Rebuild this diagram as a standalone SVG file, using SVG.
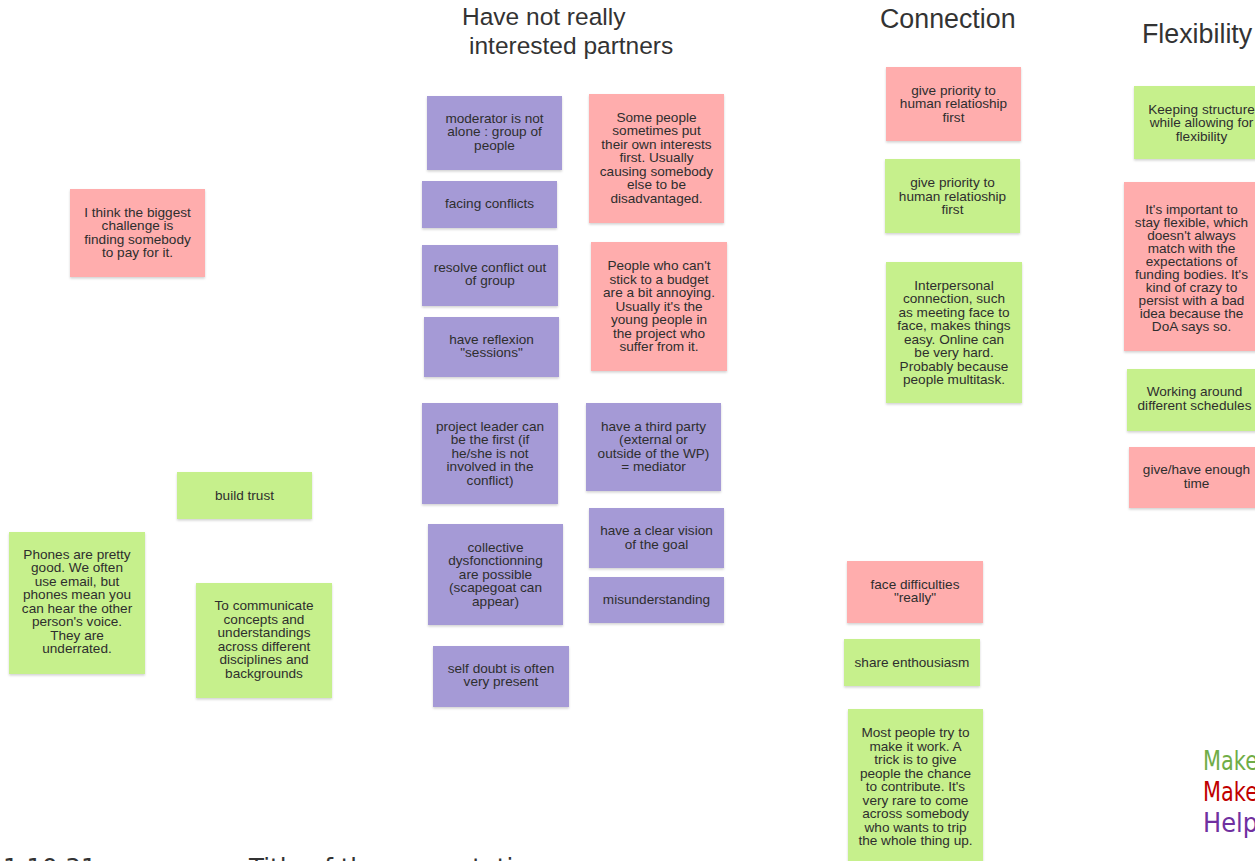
<svg xmlns="http://www.w3.org/2000/svg" width="1255" height="861" viewBox="0 0 1255 861">
<defs>
<filter id="sh" x="-10%" y="-10%" width="120%" height="130%">
<feDropShadow dx="0" dy="1.5" stdDeviation="1.3" flood-color="#000" flood-opacity="0.18"/>
</filter>
<style>
.n rect{filter:url(#sh);}
.pink rect{fill:#ffadad;}
.green rect{fill:#c6f08c;}
.purple rect{fill:#a59ad6;}
.n text{font-family:"Liberation Sans",Arial,sans-serif;font-size:13.6px;fill:#2e2e2e;text-anchor:middle;}
.h{font-family:"Liberation Sans",Arial,sans-serif;fill:#333333;}
.leg{font-family:"DejaVu Sans",Tahoma,sans-serif;font-size:26px;}
.foot{font-family:"DejaVu Sans",Tahoma,sans-serif;font-size:24.5px;fill:#333333;}
</style>
</defs>
<rect width="1255" height="861" fill="#ffffff"/>

<g id="headings">
<text class="h" x="462" y="25" font-size="24.5">Have not really</text>
<text class="h" x="469" y="54" font-size="24.5">interested partners</text>
<text class="h" x="880" y="28" font-size="26.8">Connection</text>
<text class="h" x="1142" y="43" font-size="26.8">Flexibility</text>
</g>

<g id="connectors"></g>

<g id="note1" class="n pink"><rect x="70" y="189" width="135" height="88"/>
<text x="137.5" y="216.5"><tspan x="137.5">I think the biggest</tspan><tspan x="137.5" dy="13.5">challenge is</tspan><tspan x="137.5" dy="13.5">finding somebody</tspan><tspan x="137.5" dy="13.5">to pay for it.</tspan></text></g>

<g id="note2" class="n green"><rect x="177" y="472" width="135" height="47"/>
<text x="244.5" y="499.5">build trust</text></g>

<g id="note3" class="n green"><rect x="9" y="532" width="136" height="142"/>
<text x="77" y="558.75"><tspan x="77">Phones are pretty</tspan><tspan x="77" dy="13.5">good. We often</tspan><tspan x="77" dy="13.5">use email, but</tspan><tspan x="77" dy="13.5">phones mean you</tspan><tspan x="77" dy="13.5">can hear the other</tspan><tspan x="77" dy="13.5">person's voice.</tspan><tspan x="77" dy="13.5">They are</tspan><tspan x="77" dy="13.5">underrated.</tspan></text></g>

<g id="note4" class="n green"><rect x="196" y="583" width="136" height="115"/>
<text x="264" y="610.25"><tspan x="264">To communicate</tspan><tspan x="264" dy="13.5">concepts and</tspan><tspan x="264" dy="13.5">understandings</tspan><tspan x="264" dy="13.5">across different</tspan><tspan x="264" dy="13.5">disciplines and</tspan><tspan x="264" dy="13.5">backgrounds</tspan></text></g>

<g id="note5" class="n purple"><rect x="427" y="96" width="135" height="74"/>
<text x="494.5" y="122.5"><tspan x="494.5">moderator is not</tspan><tspan x="494.5" dy="13.5">alone : group of</tspan><tspan x="494.5" dy="13.5">people</tspan></text></g>

<g id="note6" class="n purple"><rect x="422" y="181" width="135" height="47"/>
<text x="489.5" y="207.5">facing conflicts</text></g>

<g id="note7" class="n purple"><rect x="422" y="245" width="136" height="61"/>
<text x="490" y="271.75"><tspan x="490">resolve conflict out</tspan><tspan x="490" dy="13.5">of group</tspan></text></g>

<g id="note8" class="n purple"><rect x="424" y="317" width="135" height="60"/>
<text x="491.5" y="343.75"><tspan x="491.5">have reflexion</tspan><tspan x="491.5" dy="13.5">"sessions"</tspan></text></g>

<g id="note9" class="n pink"><rect x="589" y="94" width="135" height="129"/>
<text x="656.5" y="121.5"><tspan x="656.5">Some people</tspan><tspan x="656.5" dy="13.5">sometimes put</tspan><tspan x="656.5" dy="13.5">their own interests</tspan><tspan x="656.5" dy="13.5">first. Usually</tspan><tspan x="656.5" dy="13.5">causing somebody</tspan><tspan x="656.5" dy="13.5">else to be</tspan><tspan x="656.5" dy="13.5">disadvantaged.</tspan></text></g>

<g id="note10" class="n pink"><rect x="591" y="242" width="136" height="129"/>
<text x="659" y="270"><tspan x="659">People who can't</tspan><tspan x="659" dy="13.5">stick to a budget</tspan><tspan x="659" dy="13.5">are a bit annoying.</tspan><tspan x="659" dy="13.5">Usually it's the</tspan><tspan x="659" dy="13.5">young people in</tspan><tspan x="659" dy="13.5">the project who</tspan><tspan x="659" dy="13.5">suffer from it.</tspan></text></g>

<g id="note11" class="n purple"><rect x="422" y="403" width="136" height="101"/>
<text x="490" y="430.5"><tspan x="490">project leader can</tspan><tspan x="490" dy="13.5">be the first (if</tspan><tspan x="490" dy="13.5">he/she is not</tspan><tspan x="490" dy="13.5">involved in the</tspan><tspan x="490" dy="13.5">conflict)</tspan></text></g>

<g id="note12" class="n purple"><rect x="586" y="403" width="135" height="88"/>
<text x="653.5" y="430.75"><tspan x="653.5">have a third party</tspan><tspan x="653.5" dy="13.5">(external or</tspan><tspan x="653.5" dy="13.5">outside of the WP)</tspan><tspan x="653.5" dy="13.5">= mediator</tspan></text></g>

<g id="note13" class="n purple"><rect x="428" y="524" width="135" height="101"/>
<text x="495.5" y="551.5"><tspan x="495.5">collective</tspan><tspan x="495.5" dy="13.5">dysfonctionning</tspan><tspan x="495.5" dy="13.5">are possible</tspan><tspan x="495.5" dy="13.5">(scapegoat can</tspan><tspan x="495.5" dy="13.5">appear)</tspan></text></g>

<g id="note14" class="n purple"><rect x="589" y="508" width="135" height="60"/>
<text x="656.5" y="535.25"><tspan x="656.5">have a clear vision</tspan><tspan x="656.5" dy="13.5">of the goal</tspan></text></g>

<g id="note15" class="n purple"><rect x="589" y="577" width="135" height="46"/>
<text x="656.5" y="603.5">misunderstanding</text></g>

<g id="note16" class="n purple"><rect x="433" y="646" width="136" height="61"/>
<text x="501" y="672.75"><tspan x="501">self doubt is often</tspan><tspan x="501" dy="13.5">very present</tspan></text></g>

<g id="note17" class="n pink"><rect x="886" y="67" width="135" height="74"/>
<text x="953.5" y="94.5"><tspan x="953.5">give priority to</tspan><tspan x="953.5" dy="13.5">human relatioship</tspan><tspan x="953.5" dy="13.5">first</tspan></text></g>

<g id="note18" class="n green"><rect x="885" y="159" width="135" height="74"/>
<text x="952.5" y="187"><tspan x="952.5">give priority to</tspan><tspan x="952.5" dy="13.5">human relatioship</tspan><tspan x="952.5" dy="13.5">first</tspan></text></g>

<g id="note19" class="n green"><rect x="886" y="262" width="136" height="141"/>
<text x="954" y="289.75"><tspan x="954">Interpersonal</tspan><tspan x="954" dy="13.5">connection, such</tspan><tspan x="954" dy="13.5">as meeting face to</tspan><tspan x="954" dy="13.5">face, makes things</tspan><tspan x="954" dy="13.5">easy. Online can</tspan><tspan x="954" dy="13.5">be very hard.</tspan><tspan x="954" dy="13.5">Probably because</tspan><tspan x="954" dy="13.5">people multitask.</tspan></text></g>

<g id="note20" class="n pink"><rect x="847" y="561" width="136" height="62"/>
<text x="915" y="588.75"><tspan x="915">face difficulties</tspan><tspan x="915" dy="13.5">"really"</tspan></text></g>

<g id="note21" class="n green"><rect x="844" y="639" width="136" height="47"/>
<text x="912" y="666.5">share enthousiasm</text></g>

<g id="note22" class="n green"><rect x="848" y="709" width="135" height="156"/>
<text x="915.5" y="737"><tspan x="915.5">Most people try to</tspan><tspan x="915.5" dy="13.5">make it work. A</tspan><tspan x="915.5" dy="13.5">trick is to give</tspan><tspan x="915.5" dy="13.5">people the chance</tspan><tspan x="915.5" dy="13.5">to contribute. It's</tspan><tspan x="915.5" dy="13.5">very rare to come</tspan><tspan x="915.5" dy="13.5">across somebody</tspan><tspan x="915.5" dy="13.5">who wants to trip</tspan><tspan x="915.5" dy="13.5">the whole thing up.</tspan></text></g>

<g id="note23" class="n green"><rect x="1134" y="86" width="135" height="73"/>
<text x="1201.5" y="113.5"><tspan x="1201.5">Keeping structure</tspan><tspan x="1201.5" dy="13.5">while allowing for</tspan><tspan x="1201.5" dy="13.5">flexibility</tspan></text></g>

<g id="note24" class="n pink"><rect x="1124" y="182" width="135" height="169"/>
<text x="1191.5" y="213.5"><tspan x="1191.5">It's important to</tspan><tspan x="1191.5" dy="13">stay flexible, which</tspan><tspan x="1191.5" dy="13">doesn't always</tspan><tspan x="1191.5" dy="13">match with the</tspan><tspan x="1191.5" dy="13">expectations of</tspan><tspan x="1191.5" dy="13">funding bodies. It's</tspan><tspan x="1191.5" dy="13">kind of crazy to</tspan><tspan x="1191.5" dy="13">persist with a bad</tspan><tspan x="1191.5" dy="13">idea because the</tspan><tspan x="1191.5" dy="13">DoA says so.</tspan></text></g>

<g id="note25" class="n green"><rect x="1127" y="369" width="135" height="62"/>
<text x="1194.5" y="396.25"><tspan x="1194.5">Working around</tspan><tspan x="1194.5" dy="13.5">different schedules</tspan></text></g>

<g id="note26" class="n pink"><rect x="1129" y="447" width="135" height="61"/>
<text x="1196.5" y="474.25"><tspan x="1196.5">give/have enough</tspan><tspan x="1196.5" dy="13.5">time</tspan></text></g>

<g id="legend">
<text class="leg" x="1203" y="770" fill="#70ad47" textLength="55" lengthAdjust="spacingAndGlyphs">Make</text>
<text class="leg" x="1203" y="801" fill="#c00000" textLength="55" lengthAdjust="spacingAndGlyphs">Make</text>
<text class="leg" x="1203" y="832" fill="#7030a0" textLength="55" lengthAdjust="spacingAndGlyphs">Help</text>
</g>

<g id="footer">
<text class="foot" x="3" y="876">1.10.31</text>
<text class="foot" x="249" y="876">Title of the presentation</text>
</g>
</svg>
